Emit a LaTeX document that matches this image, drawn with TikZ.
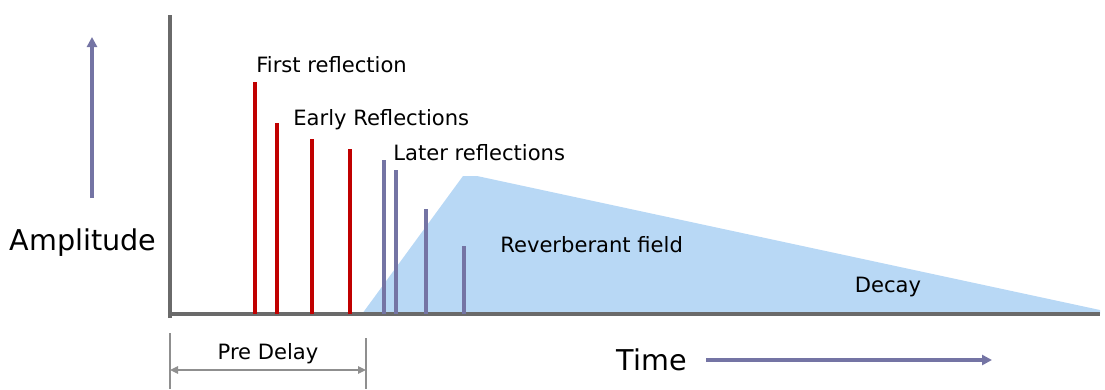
\documentclass[tikz,border=0pt]{standalone}
\usepackage{fontspec}
\setmainfont{DejaVu Sans}
\usetikzlibrary{arrows.meta,positioning}
\definecolor{refred}{HTML}{C00000}
\definecolor{latepurple}{HTML}{7474A4}
\definecolor{fieldblue}{HTML}{B8D8F5}
\definecolor{axisgray}{HTML}{6A6A6A}
\begin{document}
\begin{tikzpicture}[x=0.02cm,y=-0.02cm,
  lbl/.style={font=\fontsize{12}{14}\selectfont,inner sep=0pt,anchor=west},
  big/.style={font=\fontsize{16.3}{18}\selectfont,inner sep=0pt},
  early/.style={draw=refred,line width=1.8pt},
  late/.style={draw=latepurple,line width=1.8pt},
  axis/.style={draw=axisgray,line width=1.8pt},
  guide/.style={draw=axisgray!75,line width=0.8pt},
  dir/.style={draw=latepurple,line width=1.8pt,-{Triangle[length=2mm,width=2mm]}}]
  \useasboundingbox (0,0) rectangle (1105,389);
  % reverberant field
  \fill[fieldblue] (362,314) -- (463,176) -- (477,176) -- (1100,310) -- (1100,314) -- cycle;
  % axes
  \coordinate (o) at (170,314);
  \coordinate (ytop) at (170,15);
  \coordinate (xend) at (1100,314);
  \draw[axis] (170,318) -- (ytop);
  \draw[axis] (o) -- (xend);
  % spikes
  \foreach \x/\y in {255/82,277/123,312/139,350/149}
    \draw[early] (\x,314) -- (\x,\y);
  \foreach \x/\y in {384/160,396/170,426/209,464/246}
    \draw[late] (\x,314) -- (\x,\y);
  % labels
  \node[lbl] (first) at (256,65) {First reflection};
  \node[lbl] (early) at (293,120) {Early Reflections};
  \node[lbl] (later) at (393,153) {Later reflections};
  \node[lbl] (field) at (500,245) {Reverberant field};
  \node[lbl,anchor=center] (decay) at (888,287) {Decay};
  % amplitude
  \node[big] (amp) at (83,243) {Amplitude};
  \coordinate (ampfoot) at (92,198);
  \coordinate (amphead) at (92,37);
  \draw[dir] (ampfoot) -- (amphead);
  % time
  \node[big] (time) at (652,360) {Time};
  \coordinate (timefoot) at (706,360);
  \coordinate (timehead) at (992,360);
  \draw[dir] (timefoot) -- (timehead);
  % pre delay
  \coordinate (pdl) at (170,370);
  \coordinate (pdr) at (366,370);
  \draw[guide] (170,333) -- (170,389);
  \draw[guide] (366,338) -- (366,389);
  \draw[guide,{Triangle[length=1.6mm,width=1.5mm]}-{Triangle[length=1.6mm,width=1.5mm]}] (pdl) -- (pdr);
  \node[lbl,anchor=center] (pre) at (268,354) {Pre Delay};
\end{tikzpicture}
\end{document}
